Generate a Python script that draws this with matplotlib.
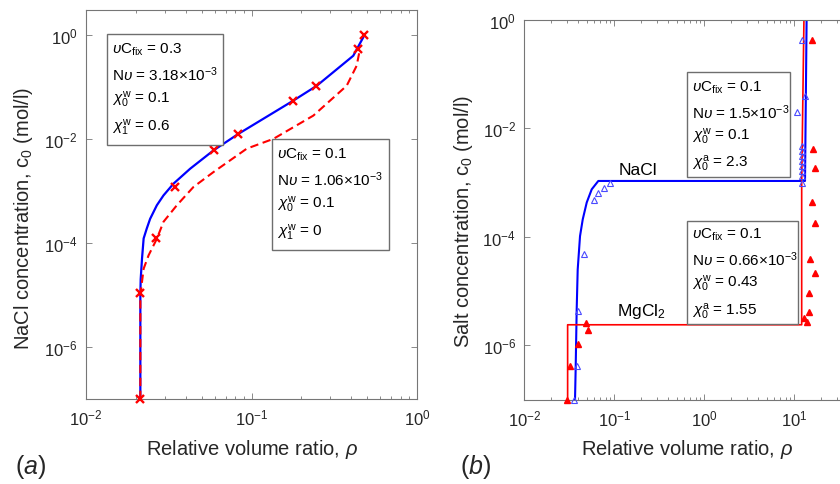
import matplotlib
matplotlib.use('Agg')
import matplotlib.pyplot as plt
import matplotlib.transforms as mtransforms
from matplotlib.patches import Rectangle
from matplotlib.ticker import LogLocator, NullLocator, FixedLocator, LogFormatterSciNotation

plt.rcParams['font.family'] = ['Liberation Sans', 'DejaVu Sans']
plt.rcParams['mathtext.fontset'] = 'custom'
plt.rcParams['mathtext.rm'] = 'Liberation Sans'
plt.rcParams['mathtext.it'] = 'Liberation Sans:italic'
plt.rcParams['mathtext.bf'] = 'Liberation Sans:bold'
plt.rcParams['mathtext.sf'] = 'Liberation Sans'

# ---------------- data: panel (a) ----------------
rho_a_model1 = [0.0213, 0.0213, 0.0214, 0.0218, 0.0223, 0.0233, 0.0244, 0.0268, 0.0294,
                0.0338, 0.0426, 0.0589, 0.0834, 0.179, 0.248, 0.412, 0.473, 0.478]
c_a_model1 = [1e-7, 1.0e-5, 2.0e-5, 5.0e-5, 1.22e-4, 1.9e-4, 2.9e-4, 5.3e-4, 8.2e-4,
              1.38e-3, 2.67e-3, 6.0e-3, 1.25e-2, 0.0544, 0.105, 0.396, 0.89, 1.0]
rho_a_model2 = [0.0213, 0.0213, 0.0223, 0.0239, 0.0268, 0.0294, 0.0354, 0.0446, 0.0589,
                0.0937, 0.1356, 0.2364, 0.376, 0.432, 0.452]
c_a_model2 = [1e-7, 1.0e-5, 3.2e-5, 5.8e-5, 1.2e-4, 2.55e-4, 5.3e-4, 1.19e-3, 2.3e-3,
              6.5e-3, 0.01, 0.028, 0.105, 0.255, 0.53]
rho_a_exp = [0.0213, 0.0213, 0.02645, 0.0346, 0.0595, 0.0827, 0.179, 0.245, 0.442, 0.478]
c_a_exp = [1e-7, 1.07e-5, 1.26e-4, 1.2e-3, 6.2e-3, 1.24e-2, 0.0544, 0.105, 0.53, 1.0]

# ---------------- data: panel (b) ----------------
rho_nacl_model = [0.0366, 0.0372, 0.0382, 0.0392, 0.0416, 0.0446, 0.0494, 0.0561, 0.0664,
                  13.15, 13.7]
c_nacl_model = [1e-7, 3.6e-7, 4.6e-6, 2.5e-5, 1.03e-4, 2.1e-4, 4.3e-4, 7.5e-4, 1.07e-3,
                1.07e-3, 1.0]
rho_mgcl2_model = [0.0303, 0.0303, 12.08, 12.08, 12.8]
c_mgcl2_model = [1e-7, 2.4e-6, 2.4e-6, 1e-3, 1.0]
rho_nacl_exp = [0.0360, 0.0383, 0.0398, 0.0464, 0.060, 0.0664, 0.0774, 0.0896,
                12.08, 12.08, 12.08, 12.08, 12.08, 12.08, 12.08, 12.08, 10.6, 13.1, 12.1]
c_nacl_exp = [1e-7, 4.1e-7, 4.3e-6, 4.75e-5, 4.7e-4, 6.3e-4, 8.1e-4, 9.8e-4,
              1.0e-3, 1.32e-3, 1.64e-3, 2.02e-3, 2.5e-3, 3.1e-3, 3.83e-3, 4.7e-3, 0.0196, 0.0386, 0.43]
rho_mgcl2_exp = [0.0296, 0.0322, 0.0392, 0.0481, 0.0506, 15.8, 16.3, 17.0, 15.6, 17.1,
                 14.9, 16.9, 14.5, 14.7, 12.8, 13.7]
c_mgcl2_exp = [1e-7, 4.1e-7, 1.08e-6, 2.6e-6, 1.96e-6, 0.43, 4.2e-3, 1.84e-3, 4.4e-4, 1.83e-4,
               3.96e-5, 2.19e-5, 9.1e-6, 4.1e-6, 3.2e-6, 2.7e-6]

ytick_vals = [1e-6, 1e-4, 1e-2, 1e0]
xtick_a = [1e-2, 1e-1, 1e0]
xtick_b = [1e-2, 1e-1, 1e0, 1e1]
box_a1 = [r'$\upsilon$C$_{\rm fix}$ = 0.3', r'N$\upsilon$ = 3.18$\times$10$^{-3}$',
          r'$\chi_0^{\rm w}$ = 0.1', r'$\chi_1^{\rm w}$ = 0.6']
box_a2 = [r'$\upsilon$C$_{\rm fix}$ = 0.1', r'N$\upsilon$ = 1.06$\times$10$^{-3}$',
          r'$\chi_0^{\rm w}$ = 0.1', r'$\chi_1^{\rm w}$ = 0']
box_b1 = [r'$\upsilon$C$_{\rm fix}$ = 0.1', r'N$\upsilon$ = 1.5$\times$10$^{-3}$',
          r'$\chi_0^{\rm w}$ = 0.1', r'$\chi_0^{\rm a}$ = 2.3']
box_b2 = [r'$\upsilon$C$_{\rm fix}$ = 0.1', r'N$\upsilon$ = 0.66$\times$10$^{-3}$',
          r'$\chi_0^{\rm w}$ = 0.43', r'$\chi_0^{\rm a}$ = 1.55']

W, H = 840, 485
fig = plt.figure(figsize=(W / 100, H / 100), dpi=100)
pix = mtransforms.Affine2D().scale(1 / W, -1 / H).translate(0, 1) + fig.transFigure

def axes_px(x0, y0, x1, y1):
    return fig.add_axes([x0 / W, 1 - y1 / H, (x1 - x0) / W, (y1 - y0) / H])

SP = '#767676'
TX = '#262626'

def style(ax, xlim, ylim, xticks):
    ax.set_xscale('log')
    ax.set_yscale('log')
    ax.set_xlim(*xlim)
    ax.set_ylim(*ylim)
    for s in ax.spines.values():
        s.set_color(SP)
        s.set_linewidth(0.8)
    ax.yaxis.set_major_locator(FixedLocator(ytick_vals))
    ax.yaxis.set_minor_locator(NullLocator())
    ax.yaxis.set_major_formatter(LogFormatterSciNotation())
    ax.xaxis.set_major_locator(FixedLocator(xticks))
    ax.xaxis.set_major_formatter(LogFormatterSciNotation())
    ax.xaxis.set_minor_locator(LogLocator(base=10, subs=range(2, 10)))
    ax.tick_params(which='both', direction='in', top=True, right=True, color=SP,
                   width=0.6, labelsize=12, labelcolor=TX)
    ax.tick_params(which='major', length=4, pad=6)
    ax.tick_params(which='minor', length=2.5)

axA = axes_px(86, 11, 417, 400)
axB = axes_px(524.3, 20.7, 884.3, 400.7)
style(axA, (0.01, 1.0), (1e-7, 3.0), xtick_a)
style(axB, (0.01, 100.0), (1e-7, 1.0), xtick_b)

# panel (a)
axA.plot(rho_a_model1, c_a_model1, color='#0000ff', lw=1.6, zorder=2)
axA.plot(rho_a_model2, c_a_model2, color='#ff0000', lw=1.5, ls=(0, (4, 2.2)), zorder=2)
axA.plot(rho_a_exp, c_a_exp, 'x', color='#ff0000', ms=5.5, mew=1.7, clip_on=False, zorder=3)

# panel (b)
axB.plot(rho_nacl_model, c_nacl_model, color='#0000ff', lw=1.5, zorder=2)
axB.plot(rho_mgcl2_model, c_mgcl2_model, color='#ff0000', lw=1.2, zorder=2)
axB.plot(rho_nacl_exp, c_nacl_exp, '^', mfc='none', mec='#4a4aff', ms=4.5, mew=0.8,
         clip_on=False, zorder=3)
axB.plot(rho_mgcl2_exp, c_mgcl2_exp, '^', color='#ff0000', ms=5, clip_on=False, zorder=3)

def box(x0, y0, x1, y1, tx, offs, lines, fs=11):
    fig.add_artist(Rectangle((x0, y0), x1 - x0, y1 - y0, transform=pix, facecolor='white',
                             edgecolor='#6e6e6e', lw=1.0, zorder=4))
    for o, s in zip(offs, lines):
        fig.text(tx, y0 + o, s, transform=pix, ha='left', va='baseline', fontsize=fs,
                 color='black', zorder=5)

box(106.7, 35, 222.7, 146, 111.7, [18.4, 46.4, 68.7, 96.7], box_a1)
box(272.3, 140, 389.3, 250.7, 276.7, [18.4, 46.4, 68.7, 96.7], box_a2)
box(686.7, 73.3, 790, 178.3, 691.7, [18.4, 45.5, 67, 94.5], box_b1)
box(686.7, 221.7, 797.7, 325, 691.7, [16.6, 44.3, 65.6, 94.3], box_b2)

fig.text(638.3, 175, 'NaCl', transform=pix, ha='center', va='baseline', fontsize=12.5, color='black')
fig.text(616.7, 316, r'MgCl$_2$', transform=pix, ha='left', va='baseline', fontsize=12.5, color='black')

fig.text(251.7, 455, r'Relative volume ratio, $\rho$', transform=pix, ha='center', va='baseline',
         fontsize=14.5, color=TX)
fig.text(687.5, 455, r'Relative volume ratio, $\rho$', transform=pix, ha='center', va='baseline',
         fontsize=14.5, color=TX)
fig.text(23.3, 218, r'NaCl concentration, c$_0$ (mol/l)', transform=pix, ha='center', va='center',
         rotation=90, fontsize=14.5, color=TX)
fig.text(463.5, 221, r'Salt concentration, c$_0$ (mol/l)', transform=pix, ha='center', va='center',
         rotation=90, fontsize=14.5, color=TX)
fig.text(15, 474, r'($a$)', transform=pix, ha='left', va='baseline', fontsize=18, color=TX)
fig.text(460, 474, r'($b$)', transform=pix, ha='left', va='baseline', fontsize=18, color=TX)

fig.savefig('out.png', dpi=100)
